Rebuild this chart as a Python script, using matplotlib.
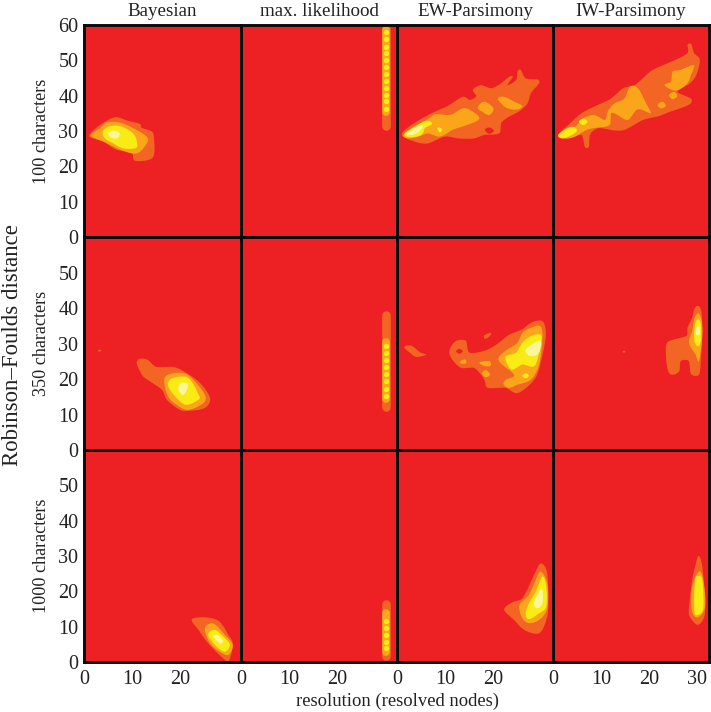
import matplotlib
matplotlib.use("Agg")
import matplotlib.pyplot as plt
import numpy as np

plt.rcParams['font.family'] = ['Liberation Serif', 'DejaVu Serif']

RED, ORANGE, AMBER, YELLOW, PALE = '#ED2024', '#F26522', '#FBA61A', '#F8EC14', '#FBF59B'

col_titles = ['Bayesian', 'max. likelihood', 'EW-Parsimony', 'IW-Parsimony']
row_titles = ['100 characters', '350 characters', '1000 characters']
x_ticks = [0, 10, 20, 30]
y_ticks = [0, 10, 20, 30, 40, 50, 60]

# ---- contour regions: (resolved nodes, RF distance)
b100_orange = [(1.1,28.9),(3.3,31.7),(6.4,33.9),(8.8,33),(11.6,32),(11.9,30.9),(14,29.9),(14.5,27.5),(14.2,22.4),(10.5,21.6),(9.9,23.8),(6.7,24.7),(4,27),(1.9,27.9)]
b100_amber = [(1.4,28.9),(3.3,30.8),(4.7,32.4),(7.4,32.4),(10.2,30.8),(13,28.4),(13,26.5),(11.1,23.7),(8.5,24.2),(6.1,25.6),(4,27),(2.3,27.9)]
b100_yellow = [(3.9,29.8),(5,31.2),(7.4,31.4),(10.2,29.3),(11,26.5),(10.6,25.1),(8.1,25.1),(6.1,26.5),(4.3,27.9)]
b100_pale = [(5,29.3),(6.1,30.1),(7.4,29.3),(6.8,27.9),(5.5,28.2)]

ew100_orange = [(1,28.9),(3,31.7),(7.2,35),(10.6,37.1),(13.7,39.7),(15.1,38.8),(16.5,39.9),(15.8,41.6),(17.5,43),(19.6,42.1),(21.7,43.5),(23.4,45.4),(24.1,45.2),(23,43),(24.8,44.4),(25.1,46.8),(25.8,47.3),(26.8,44.9),(29.2,44.6),(29.6,43.5),(27.9,40.7),(27.2,37.8),(25.4,35.5),(23.4,34.1),(21.7,32.2),(21.3,29.3),(18.2,28.9),(16.1,27.9),(12.7,27.9),(9.9,28.4),(6.5,26.5),(3.7,27)]
ew100_amber = [[(1.3,28.9),(3.7,31),(7.2,34.1),(8.2,34.8),(11.3,34.6),(14.1,36.5),(17.2,33.7),(14.8,31.8),(11.7,30.4),(10,29),(8.5,28.4),(6.5,29.3),(4.4,28.4),(2.3,27.9)],
               [(16.8,36.7),(18.2,38.3),(20.1,36.4),(19.2,34.5),(17.7,35.5)],
               [(21,39.2),(22.3,39.7),(24.4,38.3),(26.1,37.1),(25.1,36.1),(23,36.4),(21.7,37.8)]]
ew100_yellow = [[(1.5,29.2),(3.7,31.3),(6.1,32.9),(7.3,32),(5.8,30.8),(5.1,28.9),(2.7,28.2)],
                [(8.4,30.8),(8.9,31),(9.4,30.3),(8.9,29.6)]]
ew100_pale = [(2,29.3),(4.4,31.4),(5.4,31.2),(4.1,29.3),(2.7,28.9)]
ew100_holes = [[(18.3,30.3),(19.2,31),(20.2,30.1),(19.2,29.2)]]

iw100_orange = [(1.1,28.9),(3.2,31.7),(5.9,35),(9.4,37.4),(12.1,39.2),(14.6,42.1),(17,43),(18.7,44.9),(20.8,47.3),(24.6,49.6),(28,52),(28,54.3),(28.8,54.6),(29.4,52),(30.6,50.1),(29.7,45.4),(28,43),(25.9,41.1),(28.7,39.2),(28.3,37.4),(24.5,35.5),(21.8,34.1),(18.7,33.1),(14.9,30.3),(12.1,30.3),(9.4,30.8),(7.7,28.9),(7.5,25.6),(6.6,25.6),(5.9,28.9),(3.2,27.9)]
iw100_amber = [[(1.4,28.9),(4.6,31.2),(6.3,33.6),(8.7,34.5),(10.8,33.1),(11.4,35.5),(12.8,37.8),(14.9,39.2),(16,42.5),(17.7,42.1),(19.4,37.8),(20.4,35),(18.7,35.9),(17.3,35.9),(15.6,33.1),(13.5,34.5),(12.1,35),(11.8,31.7),(9.4,31),(7,30.3),(4.6,28.4),(2.5,27.9)],
               [(24.9,46.8),(26.6,47.3),(29.4,48.7),(28.7,45.8),(28,43.5),(25.6,41.4),(23.2,43),(24.6,44)],
               [(24.2,40.2),(25.2,41.1),(25.9,39.9),(24.9,39)],
               [(21.8,37.4),(22.8,38.3),(23.5,37.1),(22.5,36.4)]]
iw100_yellow = [[(1.1,28.9),(3.2,31),(4.6,31),(4.9,29.8),(3.2,28.4),(1.8,27.9)],
                [(5.4,32.6),(6.3,33.5),(7.2,32.6),(6.3,31.7)]]

b350_orange = [[(10.9,24.5),(11.6,25.7),(13.3,25.3),(15,23.4),(18.5,23.4),(21.2,21.7),(24,18.9),(26.1,14.6),(25,11.8),(22,11.1),(19.9,11.3),(17.1,14.2),(16.1,17),(12.6,20.3),(11.6,22.2)],
               [(2.9,28),(3.2,28.3),(3.6,28),(3.2,27.7)]]
b350_amber = [(16.6,19.3),(17.4,21.2),(20.6,21.7),(22.6,19.8),(25,15.6),(24.7,13.2),(21.6,11.3),(19.2,12.7),(17.4,15.1)]
b350_yellow = [(17.4,18.9),(18.5,20.3),(21.6,20.3),(23.7,15.6),(23.7,14.2),(21.2,12.7),(19.2,14.6),(17.8,17)]
b350_pale = [(19.5,17.4),(20.2,18.9),(21.6,18.4),(20.9,16),(20.2,15.6)]

ew350_orange = [[(11,28.3),(12.3,30.7),(14.4,30.7),(15.1,27.4),(18.9,28.3),(21.7,30.7),(23.4,32.5),(26.1,34),(27.9,35.8),(30.3,36.3),(31,32.1),(29.9,24.5),(28.6,19.8),(25.1,16),(22.7,17.5),(18.9,17.5),(18.2,19.8),(16.1,23.1),(13.4,23.1),(11.3,25.9)],
                [(1.5,29),(3,29.4),(4.8,27.5),(6.1,26.9),(4.1,26.2),(2.7,27.4)],
                [(18.2,32.3),(19.6,33),(19.2,31.9),(18.3,31.3)]]
ew350_amber = [[(21.3,26.4),(23,28.3),(25.1,30.2),(26.1,33),(27.9,34.4),(29.9,34.9),(30.3,31.1),(29.6,24.1),(27.9,19.8),(25.1,18.4),(23.4,17.5),(22.2,18.4),(22.7,19.8),(24.4,20.8),(23.7,22.2),(22.3,23.6),(21.3,25)],
               [(17.2,24.7),(19.3,25),(19.4,23.6),(17.9,23.8)],
               [(17.7,21.5),(18.5,22.6),(19.4,21.2),(18.5,20.5)],
               [(13.2,25),(14.2,25.5),(14.4,24.5),(13.4,24.3)]]
ew350_yellow = [[(22.7,26.4),(24.8,27.4),(26.1,30.2),(27.9,32.1),(29.9,32.5),(30,30.2),(28.9,24.1),(27.5,23.6),(26.1,24.1),(24.1,22.6),(23,24.1)],
                [(26.1,20.9),(26.8,21.6),(27.5,20.9),(26.8,20.2)]]
ew350_pale = [(26.8,28.3),(28.6,30.2),(30,30.7),(29.6,27.4),(28.2,26.4),(27.2,26.9)]
ew350_holes = [[(12.3,27.8),(13,28.5),(13.7,27.8),(13,27.1)]]

iw350_orange = [[(30.1,40.6),(30.9,39.2),(31.1,33),(30.8,25.5),(30.4,21.2),(28.7,21.5),(28.3,25),(26.6,25),(26.3,22.2),(24.9,21.2),(23.9,22.6),(23.5,28.3),(24.2,30.7),(27.7,32.1),(28,34.4),(29,37.3),(29.4,39.6)],
                [(14.5,27.7),(14.8,28),(15.1,27.7),(14.8,27.4)]]
iw350_amber = [(30.2,38.5),(30.9,36.8),(31.1,32.1),(30.4,25),(29.7,26.9),(28.3,30.2),(29,33.5),(29.4,36.8)]
iw350_yellow = [(30.2,36.8),(30.8,35.4),(30.8,30.7),(30.2,29.2),(29.5,30.7),(29.5,34.9)]
iw350_pale = [(30.2,34.9),(30.6,34),(30.5,32.5),(29.8,32.5),(29.8,34)]

b1000_orange = [(22.3,12.1),(25.4,12.6),(28.1,11.4),(29.9,7.6),(30.8,5.3),(30.2,1),(29.2,0.6),(25.7,5.3),(23.7,9.1)]
b1000_amber = [(25,9.5),(26.8,10.9),(29.2,7.6),(30.8,4.8),(29.9,2),(28.1,2.9),(26.1,5.3)]
b1000_yellow = [(25.7,7.6),(27.1,9.1),(29.2,6.7),(30.2,4.8),(29.2,2.9),(27.5,4.3)]
b1000_pale = [(26.8,7.2),(27.8,7.6),(28.8,5.8),(28.1,5.3)]

ew1000_orange = [(30.1,27.9),(31.3,25.1),(31.5,15.7),(31.1,11.9),(29.6,8.1),(26.5,9.1),(24.4,11.9),(22.3,14.9),(24.4,17.1),(26.1,18),(27.9,22.7),(29.2,26.5)]
ew1000_amber = [(29.9,25.6),(31.3,22.3),(31.3,15.2),(29.6,11.9),(27.5,11),(26.1,12.4),(25.5,16.1),(27.5,19),(28.9,23.2)]
ew1000_yellow = [(30.3,24.2),(31.1,21.3),(31.1,15.7),(29.6,13.8),(27.5,12.1),(26.8,13.8),(27.5,16.6),(28.9,19.9)]
ew1000_pale = [(29.6,19.9),(30.3,20.4),(30.3,16.6),(29.2,15.2),(28.5,16.6)]

iw1000_orange = [(30.3,30),(31.1,27),(31.7,16.6),(31.4,12.4),(30.1,10.5),(28.7,12.4),(28.3,14.7),(29,23.2),(29.6,26.9)]
iw1000_amber = [(30.4,25.6),(31.3,23.2),(31.7,15.7),(30.1,12.6),(28.9,14.7),(29,21.3)]
iw1000_yellow = [(30.3,24.3),(31.1,23.2),(31.3,15.2),(30.1,13.3),(29.4,14.7),(29.6,23.2)]

# maximum likelihood columns: one x, extents in RF distance, and the yellow beads
ml_x = 30.2
ml100_orange = (31.5, 58.8)
ml100_amber = (35.5, 58.6)
ml100_beads = [57.9, 56, 53.9, 52, 50, 48, 46, 44.1, 42.2, 40.3, 38.4, 36.2]
ml350_orange = (12, 38)
ml350_amber = (14.5, 30.5)
ml350_beads = [29.3, 27.3, 25.3, 23.3, 21.3, 19.3, 17.3, 15.3]
ml1000_orange = (1.6, 16.4)
ml1000_amber = (2.8, 14)
ml1000_beads = [11.6, 9.6, 7.6, 5.7, 4]

W, H = 711, 712
col_edges = [84, 241, 397, 553, 709]
row_edges = [25, 237, 450, 662]
XMAX = 32.5


def smooth(pts, n=3):
    # interpolating four-point subdivision: the curve keeps passing through the read points
    p = np.asarray(pts, float)
    for _ in range(n):
        mid = (9 * (p + np.roll(p, -1, axis=0)) - np.roll(p, 1, axis=0) - np.roll(p, -2, axis=0)) / 16
        p = np.column_stack([p, mid]).reshape(-1, 2)
    return p


def blob(ax, regions, color):
    if not regions:
        return
    if isinstance(regions[0], tuple):
        regions = [regions]
    for r in regions:
        s = smooth(r)
        ax.fill(s[:, 0], s[:, 1], color=color, lw=0, zorder=2)


def ml(ax, orange, amber, beads):
    ax.plot([ml_x, ml_x], orange, color=ORANGE, lw=6.2, solid_capstyle='round', zorder=2)
    ax.plot([ml_x, ml_x], amber, color=AMBER, lw=5.6, solid_capstyle='round', zorder=3)
    ax.scatter([ml_x] * len(beads), beads, s=15, color=YELLOW, lw=0, zorder=4)


layers = [
    [(b100_orange, b100_amber, b100_yellow, b100_pale), None,
     (ew100_orange, ew100_amber, ew100_yellow, ew100_pale, ew100_holes),
     (iw100_orange, iw100_amber, iw100_yellow, [])],
    [(b350_orange, b350_amber, b350_yellow, b350_pale), None,
     (ew350_orange, ew350_amber, ew350_yellow, ew350_pale, ew350_holes),
     (iw350_orange, iw350_amber, iw350_yellow, iw350_pale)],
    [(b1000_orange, b1000_amber, b1000_yellow, b1000_pale), None,
     (ew1000_orange, ew1000_amber, ew1000_yellow, ew1000_pale),
     (iw1000_orange, iw1000_amber, iw1000_yellow, [])],
]
ml_layers = [(ml100_orange, ml100_amber, ml100_beads),
             (ml350_orange, ml350_amber, ml350_beads),
             (ml1000_orange, ml1000_amber, ml1000_beads)]

fig = plt.figure(figsize=(W / 100, H / 100), dpi=100, facecolor='white')

for r in range(3):
    for c in range(4):
        l, rt = col_edges[c], col_edges[c + 1]
        t, b = row_edges[r], row_edges[r + 1]
        ax = fig.add_axes([l / W, 1 - b / H, (rt - l) / W, (b - t) / H])
        ax.set_facecolor(RED)
        ax.set_xlim(0, XMAX)
        ax.set_ylim(0, 60)
        for s in ax.spines.values():
            s.set_linewidth(2.1)
            s.set_color('#0a0a0a')
            s.set_zorder(6)
        if c == 1:
            ml(ax, *ml_layers[r])
        else:
            cells = layers[r][c]
            for regions, colour in zip(cells[:4], [ORANGE, AMBER, YELLOW, PALE]):
                blob(ax, regions, colour)
            if len(cells) > 4:
                blob(ax, cells[4], RED)
        # ticks
        if c == 0:
            ys = y_ticks if r == 0 else y_ticks[:-1]
            ax.set_yticks(ys)
            ax.set_yticklabels([str(v) for v in ys], fontsize=14.5, color='#222222')
            ax.tick_params(axis='y', length=0, pad=4)
        else:
            ax.set_yticks([])
        if r == 2:
            xs = x_ticks if c == 3 else x_ticks[:-1]
            ax.set_xticks(xs)
            ax.set_xticklabels([str(v) for v in xs], fontsize=14.5, color='#222222')
            ax.tick_params(axis='x', length=0, pad=6)
        else:
            ax.set_xticks([])
        if r == 0:
            ax.text(0.5, 1.022, col_titles[c], transform=ax.transAxes, ha='center', va='bottom',
                    fontsize=13.7, color='#222222')
        if c == 0:
            fig.text(42 / W, 1 - (t + b) / 2 / H, row_titles[r], rotation=90, ha='center',
                     va='center', fontsize=13.1, color='#222222')

fig.text(13 / W, 1 - 345 / H, 'Robinson\u2013Foulds distance', rotation=90, ha='center', va='center',
         fontsize=16.4, color='#222222')
fig.text(397 / W, 1 - 701 / H, 'resolution (resolved nodes)', ha='center', va='center',
         fontsize=13.4, color='#222222')

fig.savefig('out.png', dpi=100)
